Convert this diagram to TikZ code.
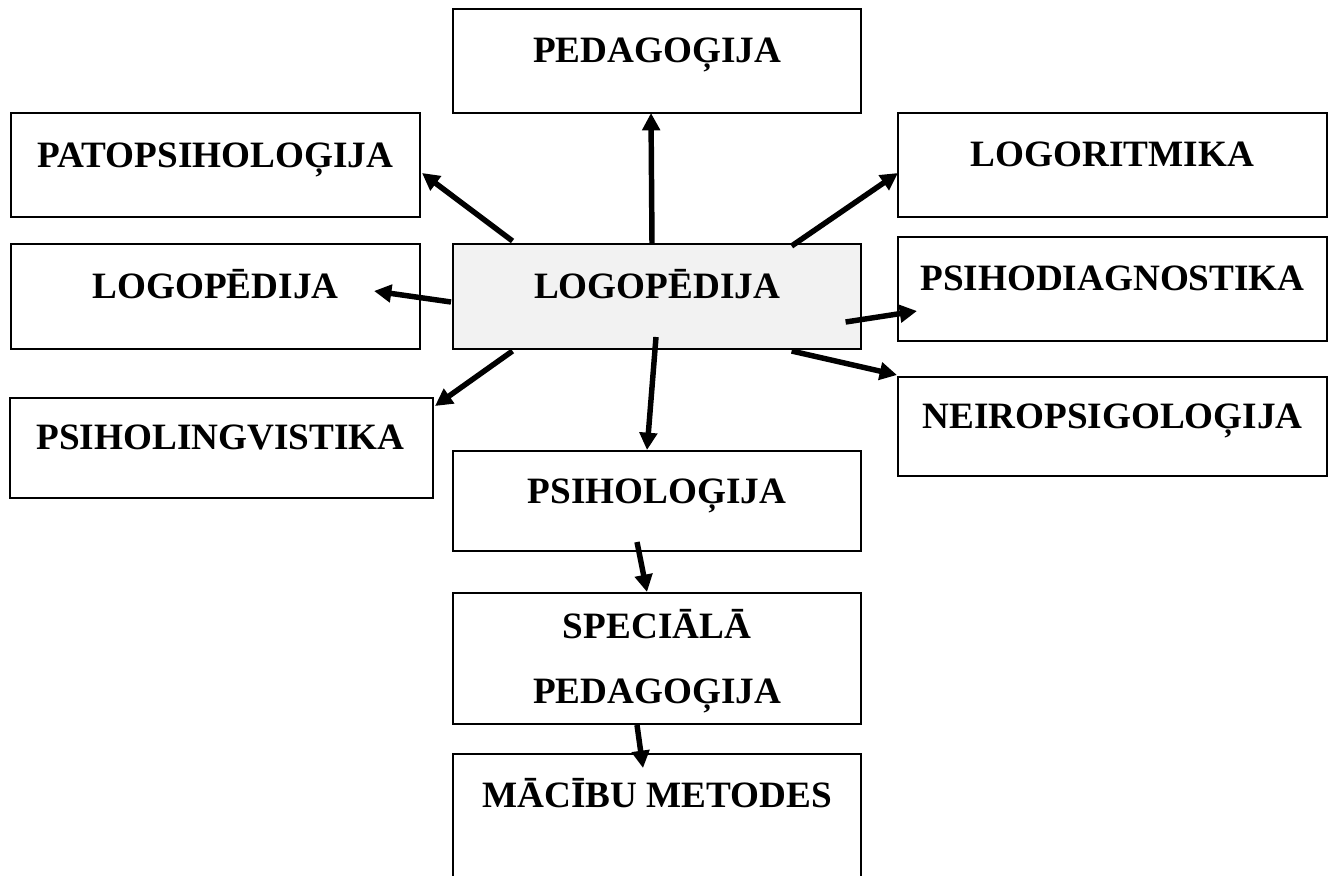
\documentclass[tikz,border=0pt]{standalone}
\usepackage{fontspec}
\setmainfont{Liberation Serif}
\usetikzlibrary{arrows.meta}
\definecolor{centerfill}{HTML}{F2F2F2}
\begin{document}
\begin{tikzpicture}[x=0.75pt,y=-0.75pt,
  box/.style={draw=black, line width=1.6pt, inner sep=0pt, fill=white},
  lbl/.style={font=\fontsize{27.9}{33}\selectfont\bfseries, anchor=base, inner sep=0pt},
  arr/.style={line width=4.1pt, -{Triangle[length=13pt,width=13pt]}}]
\useasboundingbox (0,0) rectangle (1330,875);
\clip (0,0) rectangle (1330,875);
\fill[white] (0,0) rectangle (1330,875);
% boxes
\node[box, minimum width=306pt, minimum height=78pt] (pedag) at (657,61) {};
\node[box, minimum width=306.75pt, minimum height=78pt] (patop) at (215.5,165) {};
\node[box, minimum width=306.75pt, minimum height=78.75pt] (logoL) at (215.5,296.5) {};
\node[box, fill=centerfill, minimum width=306pt, minimum height=78.75pt] (center) at (657,296.5) {};
\node[box, minimum width=321.75pt, minimum height=78pt] (logor) at (1112.5,165) {};
\node[box, minimum width=321.75pt, minimum height=78pt] (psihod) at (1112.5,289) {};
\node[box, minimum width=321.75pt, minimum height=74.25pt] (neiro) at (1112.5,426.5) {};
\node[box, minimum width=317.25pt, minimum height=75pt] (psihol) at (221.5,448) {};
\node[box, minimum width=306pt, minimum height=75pt] (psiholog) at (657,501) {};
\node[box, minimum width=306pt, minimum height=98.25pt] (spec) at (657,658.5) {};
\node[box, minimum width=306pt, minimum height=109.5pt] (macibu) at (657,827) {};
% labels
\node[lbl] (pedagT) at (657,62) {PEDAGOĢIJA};
\node[lbl] (patopT) at (215.5,167) {PATOPSIHOLOĢIJA};
\node[lbl] (logoLT) at (215.5,298) {LOGOPĒDIJA};
\node[lbl] (centerT) at (657,298) {LOGOPĒDIJA};
\node[lbl] (logorT) at (1112.5,166) {LOGORITMIKA};
\node[lbl] (psihodT) at (1112.5,290) {PSIHODIAGNOSTIKA};
\node[lbl] (neiroT) at (1112.5,428) {NEIROPSIGOLOĢIJA};
\node[lbl] (psiholT) at (220.5,449) {PSIHOLINGVISTIKA};
\node[lbl] (psihologT) at (657,503) {PSIHOLOĢIJA};
\node[lbl] (specT1) at (657,638) {SPECIĀLĀ};
\node[lbl] (specT2) at (657,703) {PEDAGOĢIJA};
\node[lbl] (macibuT) at (657,807) {MĀCĪBU METODES};
% connector end points
\coordinate (c1) at (652,244);   \coordinate (t1) at (651,113);
\coordinate (c2) at (512.5,241); \coordinate (t2) at (422,173);
\coordinate (c3) at (451,302);   \coordinate (t3) at (374,291);
\coordinate (c4) at (512.5,351); \coordinate (t4) at (435,406);
\coordinate (c5) at (656,337);   \coordinate (t5) at (647,450);
\coordinate (c6) at (637,542);   \coordinate (t6) at (647,592);
\coordinate (c7) at (637,725);   \coordinate (t7) at (643,768);
\coordinate (c8) at (791.6,246); \coordinate (t8) at (898,173);
\coordinate (c9) at (845.6,322); \coordinate (t9) at (917,311);
\coordinate (c10) at (791.6,351); \coordinate (t10) at (897,375);
% connectors
\draw[arr] (c1) -- (t1);
\draw[arr] (c2) -- (t2);
\draw[arr] (c3) -- (t3);
\draw[arr] (c4) -- (t4);
\draw[arr] (c5) -- (t5);
\draw[arr] (c6) -- (t6);
\draw[arr] (c7) -- (t7);
\draw[arr] (c8) -- (t8);
\draw[arr] (c9) -- (t9);
\draw[arr] (c10) -- (t10);
\end{tikzpicture}
\end{document}
